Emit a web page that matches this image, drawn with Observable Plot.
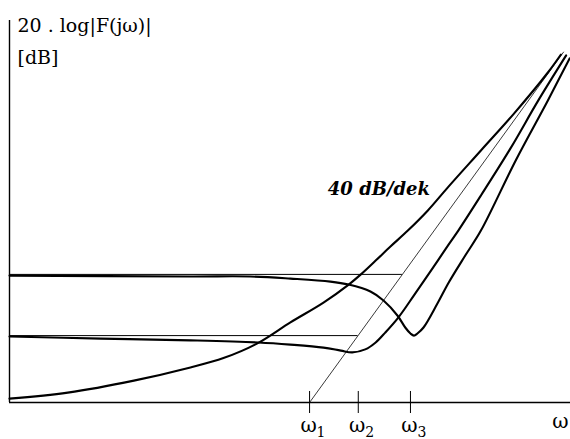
<!DOCTYPE html>
<html><head><meta charset="utf-8">
<script src="https://cdn.jsdelivr.net/npm/d3@7"></script>
<script src="https://cdn.jsdelivr.net/npm/@observablehq/plot@0.6"></script>
<style>html,body{margin:0;padding:0;background:#fff;}</style>
</head><body><div id="chart"></div>
<script>
// x: lg(ω/ω1) in decades, y: 20·log|F(jω)| in dB
const curveA = [[-3.45,1.3],[-2.78,3.3],[-2.02,7.3],[-1.37,11.7],[-0.99,14.8],[-0.60,19.7],[-0.22,26.7],[0.16,33.3],[0.45,39.3],[0.59,42.7],[0.76,47.3],[0.93,52.0],[1.13,57.3],[1.36,64.0],[1.59,71.7],[1.97,84.0],[2.35,96.3],[2.74,110.0],[2.89,116.0]];
const curveB = [[-3.45,22.0],[-2.40,21.3],[-1.37,20.7],[-0.59,20.0],[-0.22,19.3],[0.16,18.3],[0.36,17.3],[0.49,16.7],[0.64,17.7],[0.76,20.0],[0.87,23.3],[1.02,28.3],[1.20,35.7],[1.39,43.7],[1.60,52.7],[1.71,57.3],[1.97,69.0],[2.31,84.7],[2.63,100.7],[2.95,115.7]];
const curveC = [[-3.45,42.3],[-1.37,42.0],[-0.68,42.0],[-0.22,41.3],[0.24,40.3],[0.45,39.3],[0.70,37.0],[0.85,34.0],[1.01,29.0],[1.10,25.0],[1.16,23.0],[1.20,22.3],[1.24,23.0],[1.31,25.0],[1.47,33.0],[1.60,40.0],[1.79,49.0],[1.97,57.3],[2.37,80.7],[2.74,100.7],[2.99,114.7]];
const asymptote = [[0,0],[2.92,116.8]];          // 40 dB/dek
const levels = [42.7, 22.3];                     // low-frequency asymptotes (dB)
const omegaTicks = [0, 0.56, 1.16];              // ω1, ω2, ω3
const tickSubs = ["1","2","3"];
const titleLines = ["20 . log|F(jω)|", "[dB]"];
const slopeLabel = "40 dB/dek";
const axisLabel = "ω";
const xMin = -3.45, xMax = 3.0;

const chart = Plot.plot({
  width: 570, height: 439,
  marginLeft: 9, marginRight: 0, marginTop: 20, marginBottom: 37,
  x: {domain: [xMin, xMax], axis: null},
  y: {domain: [0, 127.33], axis: null},
  style: {fontFamily: "DejaVu Serif", background: "#fff", color: "#000"},
  marks: [
    Plot.ruleY([0], {stroke: "#000", strokeWidth: 1.4}),
    Plot.ruleX([xMin], {stroke: "#000", strokeWidth: 1.4}),
    Plot.ruleY(levels, {y: d => d, x1: xMin, x2: d => d / 40, stroke: "#000", strokeWidth: 1}),
    Plot.line(asymptote, {x: d => d[0], y: d => d[1], stroke: "#222", strokeWidth: 0.9}),
    Plot.ruleX(omegaTicks, {x: d => d, y1: -3.67, y2: 3.67, stroke: "#000", strokeWidth: 1}),
    Plot.line(curveA, {x: d => d[0], y: d => d[1], curve: "catmull-rom", stroke: "#000", strokeWidth: 2.1}),
    Plot.line(curveB, {x: d => d[0], y: d => d[1], curve: "catmull-rom", stroke: "#000", strokeWidth: 2.1}),
    Plot.line(curveC, {x: d => d[0], y: d => d[1], curve: "catmull-rom", stroke: "#000", strokeWidth: 2.1}),
    Plot.text(omegaTicks, {x: d => d, frameAnchor: "bottom", dy: 29, dx: -1, text: () => "ω", fontSize: 20, textAnchor: "middle", lineAnchor: "bottom", fill: "#000"}),
    Plot.text(omegaTicks, {x: d => d, frameAnchor: "bottom", dy: 34, dx: 7, text: (d, i) => tickSubs[i], fontSize: 14, textAnchor: "start", lineAnchor: "bottom", fill: "#000"}),
    Plot.text([axisLabel], {frameAnchor: "bottom-right", dx: -2, dy: 25, text: d => d, fontSize: 20, textAnchor: "end", lineAnchor: "bottom", fill: "#000"}),
    Plot.text([titleLines[0]], {frameAnchor: "top-left", dx: 8, dy: 11, text: d => d, fontSize: 19, textAnchor: "start", lineAnchor: "bottom", fill: "#000"}),
    Plot.text([titleLines[1]], {frameAnchor: "top-left", dx: 8, dy: 43, text: d => d, fontSize: 19, textAnchor: "start", lineAnchor: "bottom", fill: "#000"}),
    Plot.text([slopeLabel], {x: 0.21, y: 69.3, text: d => d, fontSize: 18, fontWeight: "bold", fontStyle: "italic", textAnchor: "start", lineAnchor: "bottom", fill: "#000"})
  ]
});
document.getElementById("chart").appendChild(chart);
</script>
</body></html>
